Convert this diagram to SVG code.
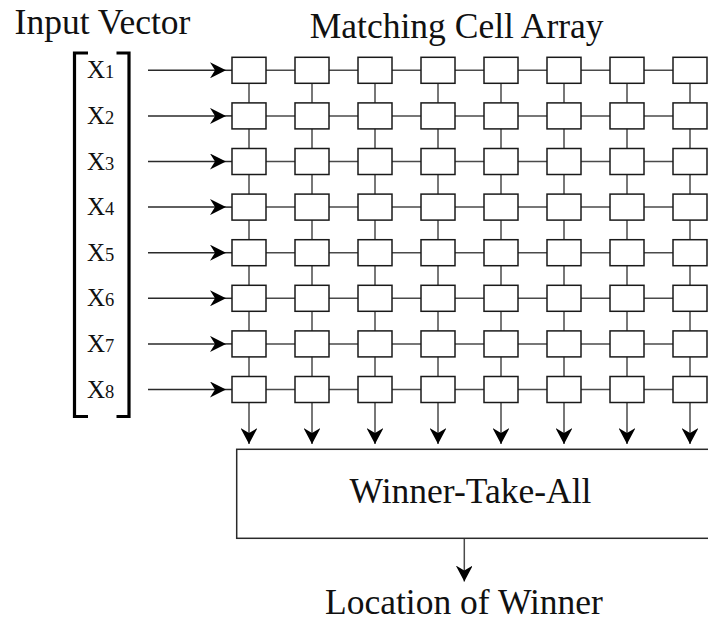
<svg xmlns="http://www.w3.org/2000/svg" width="708" height="622" viewBox="0 0 708 622">
  <style>
    .title { font-family: "Liberation Serif", "Times New Roman", Times, serif; font-size: 35.5px; fill: #111; text-anchor: middle; }
    .xlab { font-family: "Liberation Serif", "Times New Roman", Times, serif; font-size: 25px; fill: #111; }
    .xlab tspan { font-size: 18.5px; }
    .cell { fill: #fff; stroke: #1a1a1a; stroke-width: 1.5; }
    .wire { stroke: #4a4a4a; stroke-width: 1.5; fill: none; }
    .feed { stroke: #2a2a2a; stroke-width: 1.5; fill: none; }
    .bracket { stroke: #000; stroke-width: 3.2; fill: none; stroke-linejoin: miter; }
    .box { fill: #fff; stroke: #2a2a2a; stroke-width: 1.5; }
  </style>
  <defs>
    <marker id="ah" viewBox="0 0 16 16" refX="16" refY="8" markerWidth="16" markerHeight="16" orient="auto" markerUnits="userSpaceOnUse">
      <path d="M0,0 L16,8 L0,16 L5,8 z" fill="#000"/>
    </marker>
    <marker id="ahd" viewBox="0 0 18 16" refX="16" refY="8" markerWidth="18" markerHeight="16" orient="auto" markerUnits="userSpaceOnUse">
      <path d="M0,-0.5 L16,8 L0,16.5 L5,8 z" fill="#000"/>
    </marker>
  </defs>

  <!-- headings -->
  <text class="title" x="102.5" y="33.5">Input Vector</text>
  <text class="title" x="456.7" y="37.5">Matching Cell Array</text>

  <!-- input vector brackets -->
  <g id="input-vector">
    <path class="bracket" d="M88 53 H74.5 V416.5 H88"/>
    <path class="bracket" d="M116.5 53 H129 V416.5 H116.5"/>
    <text class="xlab" x="87" y="78.3">X<tspan>1</tspan></text>
    <text class="xlab" x="87" y="123.9">X<tspan>2</tspan></text>
    <text class="xlab" x="87" y="169.5">X<tspan>3</tspan></text>
    <text class="xlab" x="87" y="215.1">X<tspan>4</tspan></text>
    <text class="xlab" x="87" y="260.7">X<tspan>5</tspan></text>
    <text class="xlab" x="87" y="306.3">X<tspan>6</tspan></text>
    <text class="xlab" x="87" y="351.9">X<tspan>7</tspan></text>
    <text class="xlab" x="87" y="397.5">X<tspan>8</tspan></text>
  </g>

  <!-- connectors -->
  <g id="connectors">
    <!-- input feeds -->
    <g class="feed">
      <path d="M148 70.3 H226" marker-end="url(#ah)"/><path d="M226 70.3 H232"/>
      <path d="M148 115.9 H226" marker-end="url(#ah)"/><path d="M226 115.9 H232"/>
      <path d="M148 161.5 H226" marker-end="url(#ah)"/><path d="M226 161.5 H232"/>
      <path d="M148 207.1 H226" marker-end="url(#ah)"/><path d="M226 207.1 H232"/>
      <path d="M148 252.7 H226" marker-end="url(#ah)"/><path d="M226 252.7 H232"/>
      <path d="M148 298.3 H226" marker-end="url(#ah)"/><path d="M226 298.3 H232"/>
      <path d="M148 343.9 H226" marker-end="url(#ah)"/><path d="M226 343.9 H232"/>
      <path d="M148 389.5 H226" marker-end="url(#ah)"/><path d="M226 389.5 H232"/>
    </g>
    <!-- horizontal mesh links -->
    <g class="wire">
      <path d="M266 70.3 H673"/>
      <path d="M266 115.9 H673"/>
      <path d="M266 161.5 H673"/>
      <path d="M266 207.1 H673"/>
      <path d="M266 252.7 H673"/>
      <path d="M266 298.3 H673"/>
      <path d="M266 343.9 H673"/>
      <path d="M266 389.5 H673"/>
    </g>
    <!-- vertical mesh links and outputs to the winner-take-all block -->
    <g class="wire">
      <path d="M249 83 V444" marker-end="url(#ahd)"/>
      <path d="M312 83 V444" marker-end="url(#ahd)"/>
      <path d="M375 83 V444" marker-end="url(#ahd)"/>
      <path d="M438 83 V444" marker-end="url(#ahd)"/>
      <path d="M501 83 V444" marker-end="url(#ahd)"/>
      <path d="M564 83 V444" marker-end="url(#ahd)"/>
      <path d="M627 83 V444" marker-end="url(#ahd)"/>
      <path d="M690 83 V444" marker-end="url(#ahd)"/>
    </g>
    <!-- result output -->
    <path class="wire" d="M464.3 538.3 V581.5" marker-end="url(#ahd)"/>
  </g>

  <!-- matching cells: 8 x 8 -->
  <g id="cell-array">
    <g id="row1">
      <rect class="cell" x="232" y="57.3" width="34" height="26"/><rect class="cell" x="295" y="57.3" width="34" height="26"/><rect class="cell" x="358" y="57.3" width="34" height="26"/><rect class="cell" x="421" y="57.3" width="34" height="26"/><rect class="cell" x="484" y="57.3" width="34" height="26"/><rect class="cell" x="547" y="57.3" width="34" height="26"/><rect class="cell" x="610" y="57.3" width="34" height="26"/><rect class="cell" x="673" y="57.3" width="34" height="26"/>
    </g>
    <g id="row2">
      <rect class="cell" x="232" y="102.9" width="34" height="26"/><rect class="cell" x="295" y="102.9" width="34" height="26"/><rect class="cell" x="358" y="102.9" width="34" height="26"/><rect class="cell" x="421" y="102.9" width="34" height="26"/><rect class="cell" x="484" y="102.9" width="34" height="26"/><rect class="cell" x="547" y="102.9" width="34" height="26"/><rect class="cell" x="610" y="102.9" width="34" height="26"/><rect class="cell" x="673" y="102.9" width="34" height="26"/>
    </g>
    <g id="row3">
      <rect class="cell" x="232" y="148.5" width="34" height="26"/><rect class="cell" x="295" y="148.5" width="34" height="26"/><rect class="cell" x="358" y="148.5" width="34" height="26"/><rect class="cell" x="421" y="148.5" width="34" height="26"/><rect class="cell" x="484" y="148.5" width="34" height="26"/><rect class="cell" x="547" y="148.5" width="34" height="26"/><rect class="cell" x="610" y="148.5" width="34" height="26"/><rect class="cell" x="673" y="148.5" width="34" height="26"/>
    </g>
    <g id="row4">
      <rect class="cell" x="232" y="194.1" width="34" height="26"/><rect class="cell" x="295" y="194.1" width="34" height="26"/><rect class="cell" x="358" y="194.1" width="34" height="26"/><rect class="cell" x="421" y="194.1" width="34" height="26"/><rect class="cell" x="484" y="194.1" width="34" height="26"/><rect class="cell" x="547" y="194.1" width="34" height="26"/><rect class="cell" x="610" y="194.1" width="34" height="26"/><rect class="cell" x="673" y="194.1" width="34" height="26"/>
    </g>
    <g id="row5">
      <rect class="cell" x="232" y="239.7" width="34" height="26"/><rect class="cell" x="295" y="239.7" width="34" height="26"/><rect class="cell" x="358" y="239.7" width="34" height="26"/><rect class="cell" x="421" y="239.7" width="34" height="26"/><rect class="cell" x="484" y="239.7" width="34" height="26"/><rect class="cell" x="547" y="239.7" width="34" height="26"/><rect class="cell" x="610" y="239.7" width="34" height="26"/><rect class="cell" x="673" y="239.7" width="34" height="26"/>
    </g>
    <g id="row6">
      <rect class="cell" x="232" y="285.3" width="34" height="26"/><rect class="cell" x="295" y="285.3" width="34" height="26"/><rect class="cell" x="358" y="285.3" width="34" height="26"/><rect class="cell" x="421" y="285.3" width="34" height="26"/><rect class="cell" x="484" y="285.3" width="34" height="26"/><rect class="cell" x="547" y="285.3" width="34" height="26"/><rect class="cell" x="610" y="285.3" width="34" height="26"/><rect class="cell" x="673" y="285.3" width="34" height="26"/>
    </g>
    <g id="row7">
      <rect class="cell" x="232" y="330.9" width="34" height="26"/><rect class="cell" x="295" y="330.9" width="34" height="26"/><rect class="cell" x="358" y="330.9" width="34" height="26"/><rect class="cell" x="421" y="330.9" width="34" height="26"/><rect class="cell" x="484" y="330.9" width="34" height="26"/><rect class="cell" x="547" y="330.9" width="34" height="26"/><rect class="cell" x="610" y="330.9" width="34" height="26"/><rect class="cell" x="673" y="330.9" width="34" height="26"/>
    </g>
    <g id="row8">
      <rect class="cell" x="232" y="376.5" width="34" height="26"/><rect class="cell" x="295" y="376.5" width="34" height="26"/><rect class="cell" x="358" y="376.5" width="34" height="26"/><rect class="cell" x="421" y="376.5" width="34" height="26"/><rect class="cell" x="484" y="376.5" width="34" height="26"/><rect class="cell" x="547" y="376.5" width="34" height="26"/><rect class="cell" x="610" y="376.5" width="34" height="26"/><rect class="cell" x="673" y="376.5" width="34" height="26"/>
    </g>
  </g>

  <!-- winner-take-all block -->
  <g id="wta">
    <rect class="box" x="236.7" y="449.3" width="480" height="89"/>
    <text class="title" x="470.5" y="502.7">Winner-Take-All</text>
  </g>

  <!-- output label -->
  <g id="location">
    <text class="title" x="464" y="613.5">Location of Winner</text>
  </g>
</svg>
